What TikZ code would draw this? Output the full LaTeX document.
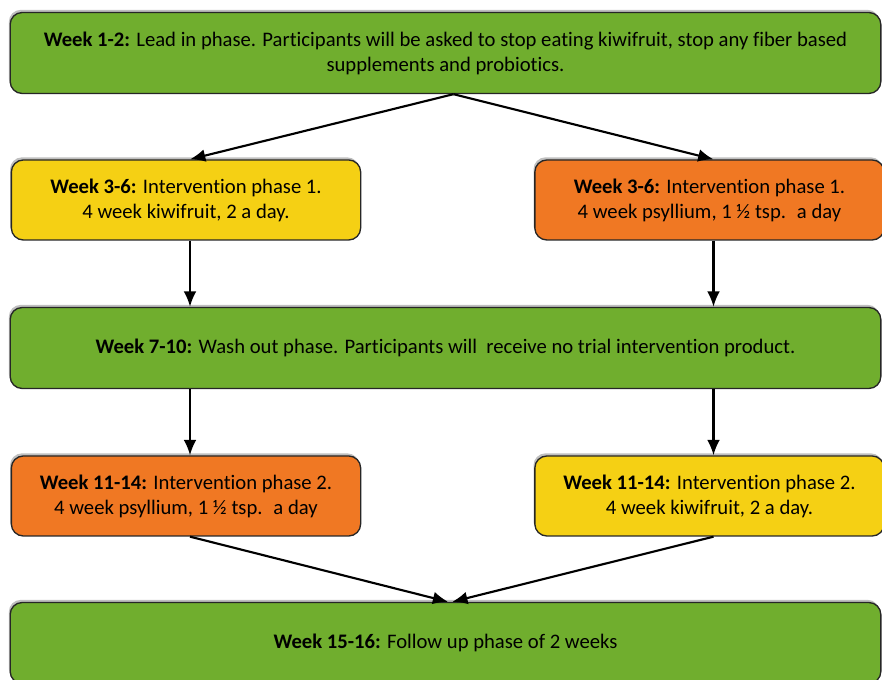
\documentclass[tikz,border=0pt]{standalone}
\usepackage{fontspec}
\setmainfont{Carlito}[Ligatures=NoCommon]
\usetikzlibrary{arrows.meta,shadows}

\definecolor{phasegreen}{RGB}{112,174,46}
\definecolor{phaseyellow}{RGB}{245,208,20}
\definecolor{phaseorange}{RGB}{240,120,35}

\tikzset{every picture/.style={line width=0.75pt}}
\tikzset{
  phase/.style={draw=black!85, line width=1pt, rounded corners=9pt, align=center,
    inner sep=0pt, font=\fontsize{15.5}{18.75}\selectfont,
    drop shadow={shadow xshift=-1pt, shadow yshift=2pt, opacity=0.25, fill=black}},
  widephase/.style={phase, fill=phasegreen, minimum width=653pt, minimum height=60.75pt},
  armphase/.style={phase, minimum width=262pt, minimum height=60pt},
  flow/.style={line width=1.6pt, -{Latex[length=11.5pt,width=9.5pt]}}
}

\begin{document}
\begin{tikzpicture}[x=0.75pt,y=0.75pt,yscale=-1,xscale=1]
	\useasboundingbox (0,0) rectangle (882,680);

	% Phase boxes
	\node[widephase] (lead) at (445.5,53) {\textbf{Week 1-2:} Lead in phase. Participants will be asked to stop eating kiwifruit, stop any fiber based\\supplements and probiotics.};
	\node[armphase, fill=phaseyellow] (kiwiA) at (186,200) {\textbf{Week 3-6:} Intervention phase 1.\\4 week kiwifruit, 2 a day.};
	\node[armphase, fill=phaseorange] (psylA) at (709.5,200) {\textbf{Week 3-6:} Intervention phase 1.\\4 week psyllium, 1 ½ tsp.~ a day};
	\node[widephase] (wash) at (445.5,348) {\textbf{Week 7-10:} Wash out phase. Participants will~ receive no trial intervention product.};
	\node[armphase, fill=phaseorange] (psylB) at (186,496) {\textbf{Week 11-14:} Intervention phase 2.\\4 week psyllium, 1 ½ tsp.~ a day};
	\node[armphase, fill=phaseyellow] (kiwiB) at (709.5,496) {\textbf{Week 11-14:} Intervention phase 2.\\4 week kiwifruit, 2 a day.};
	\node[widephase] (follow) at (445.5,643) {\textbf{Week 15-16:} Follow up phase of 2 weeks};

	% Arrows
	\draw[flow] ([xshift=6]lead.south) -- ([xshift=3]kiwiA.north);
	\draw[flow] ([xshift=6]lead.south) -- ([xshift=3]psylA.north);
	\draw[flow] ([xshift=3]kiwiA.south) -- ([xshift=3]kiwiA.south |- wash.north);
	\draw[flow] ([xshift=3]psylA.south) -- ([xshift=3]psylA.south |- wash.north);
	\draw[flow] ([xshift=3]psylB.north |- wash.south) -- ([xshift=3]psylB.north);
	\draw[flow] ([xshift=3]kiwiB.north |- wash.south) -- ([xshift=3]kiwiB.north);
	\draw[flow] ([xshift=3]psylB.south) -- ([xshift=2]follow.north);
	\draw[flow] ([xshift=3]kiwiB.south) -- ([xshift=5]follow.north);

\end{tikzpicture}
\end{document}
